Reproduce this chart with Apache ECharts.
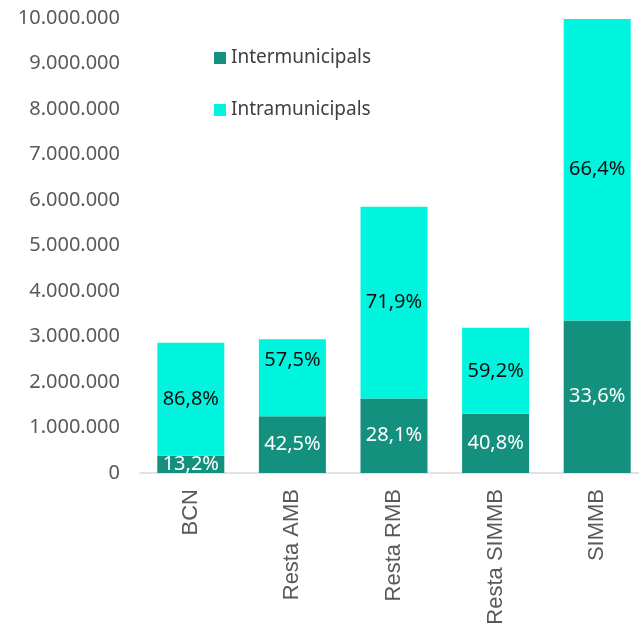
<!DOCTYPE html>
<html>
<head>
<meta charset="utf-8">
<script src="https://cdn.jsdelivr.net/npm/echarts@6/dist/echarts.min.js"></script>
<style>
  html, body { margin: 0; padding: 0; background: #fff; }
  #chart { width: 639px; height: 627px; }
</style>
</head>
<body>
<div id="chart"></div>
<script>
const categories = ["BCN", "Resta AMB", "Resta RMB", "Resta SIMMB", "SIMMB"];
const intermunicipals = [378000, 1250000, 1640000, 1300000, 3350000];
const intramunicipals = [2482000, 1690000, 4210000, 1890000, 6630000];
const interPct = ["13,2%", "42,5%", "28,1%", "40,8%", "33,6%"];
const intraPct = ["86,8%", "57,5%", "71,9%", "59,2%", "66,4%"];

const chartDom = document.getElementById("chart");
const myChart = echarts.init(chartDom);

const fmt = (v) => String(v).replace(/\B(?=(\d{3})+(?!\d))/g, ".");
const font = "Noto Sans";

const option = {
  animation: false,
  textStyle: { fontFamily: font },
  legend: {
    orient: "vertical",
    left: 214,
    top: 48,
    padding: 0,
    itemWidth: 12,
    itemHeight: 12,
    itemGap: 32,
    icon: "rect",
    textStyle: { fontSize: 19, color: "#404040", fontFamily: font, lineHeight: 20 },
    data: ["Intermunicipals", "Intramunicipals"],
  },
  grid: {
    left: 140,
    width: 508,
    top: 18,
    bottom: 154,
    outerBoundsMode: "none",
  },
  xAxis: {
    type: "category",
    data: categories,
    axisTick: { show: false },
    axisLine: { lineStyle: { color: "#d9d9d9", width: 1.5 } },
    axisLabel: {
      rotate: 90,
      margin: 16,
      fontSize: 22,
      color: "#595959",
      fontFamily: "Liberation Sans",
    },
  },
  yAxis: {
    type: "value",
    min: 0,
    max: 10000000,
    interval: 1000000,
    splitLine: { show: false },
    axisLine: { show: false },
    axisTick: { show: false },
    axisLabel: {
      margin: 20,
      fontSize: 20,
      color: "#595959",
      fontFamily: font,
      formatter: fmt,
    },
  },
  series: [
    {
      name: "Intermunicipals",
      type: "bar",
      stack: "total",
      barWidth: 67,
      itemStyle: { color: "#14907f" },
      label: {
        show: true,
        position: "inside",
        fontSize: 20,
        color: "#ffffff",
        fontFamily: font,
        formatter: (p) => interPct[p.dataIndex],
      },
      data: intermunicipals,
    },
    {
      name: "Intramunicipals",
      type: "bar",
      stack: "total",
      barWidth: 67,
      itemStyle: { color: "#00f5df" },
      label: {
        show: true,
        position: "inside",
        fontSize: 20,
        color: "#111111",
        fontFamily: font,
        formatter: (p) => intraPct[p.dataIndex],
      },
      data: intramunicipals.map((v, i) =>
        i === 1 ? { value: v, label: { offset: [0, -17] } } : v
      ),
    },
  ],
};

option && myChart.setOption(option);
</script>
</body>
</html>
